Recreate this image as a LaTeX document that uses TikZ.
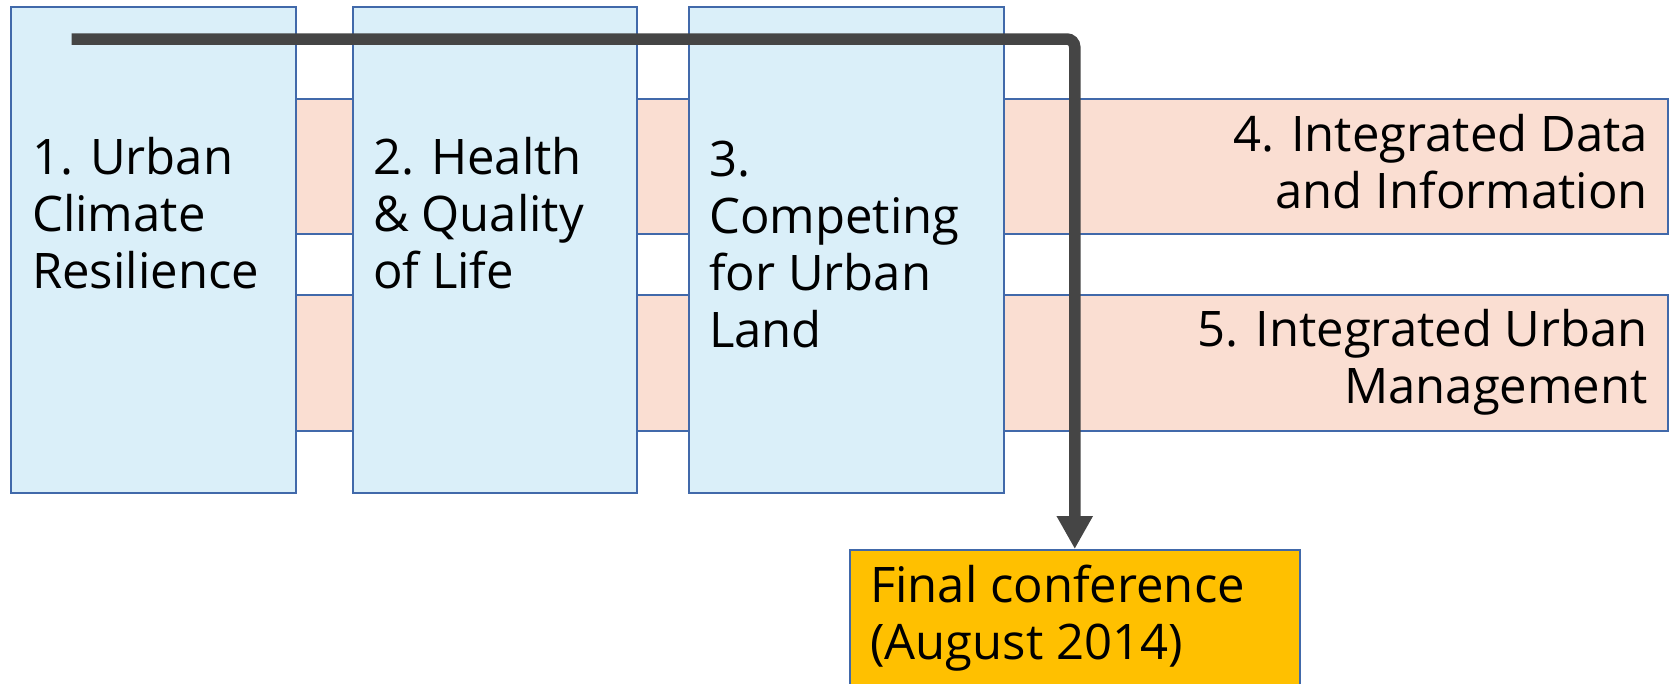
\documentclass[tikz,border=0pt]{standalone}
\usepackage{fontspec}
\setmainfont{Open Sans}
\usetikzlibrary{arrows.meta}
\definecolor{bordblue}{RGB}{65,105,170}
\definecolor{lblue}{RGB}{218,239,249}
\definecolor{lorange}{RGB}{250,222,210}
\definecolor{gold}{RGB}{255,192,0}
\definecolor{arrowgray}{RGB}{69,69,69}
\tikzset{
  box/.style={draw=bordblue, line width=2pt, inner sep=0pt, rectangle},
  bluebox/.style={box, fill=lblue},
  orangebox/.style={box, fill=lorange},
  goldbox/.style={box, fill=gold},
  lbl/.style={inner sep=0pt, font=\fontsize{49}{57}\selectfont},
  flow/.style={draw=arrowgray, line width=11.5pt, rounded corners=8pt, -{Triangle[width=34pt,length=33pt]}}
}
\begin{document}
\begin{tikzpicture}[x=1pt,y=-1pt]
\useasboundingbox (0,0) rectangle (1670,683);
% horizontal bars behind
\node[orangebox, minimum width=1468pt, minimum height=135pt] (r4) at (934,166.5) {};
\node[orangebox, minimum width=1468pt, minimum height=135.6pt] (r5) at (934,362.8) {};
% vertical boxes
\node[bluebox, minimum width=285.3pt, minimum height=485.2pt] (b1) at (153.3,249.9) {};
\node[bluebox, minimum width=284pt, minimum height=485.2pt] (b2) at (495,249.9) {};
\node[bluebox, minimum width=315pt, minimum height=485.2pt] (b3) at (846,249.9) {};
% final box
\node[goldbox, minimum width=450.5pt, minimum height=170pt] (fin) at (1074.75,635) {};
% texts
\node[lbl, anchor=base west] (t1) at (32,174) {\begin{tabular}[t]{@{}l@{}}1. Urban\\Climate\\Resilience\end{tabular}};
\node[lbl, anchor=base west] (t2) at (373,174) {\begin{tabular}[t]{@{}l@{}}2. Health\\\& Quality\\of Life\end{tabular}};
\node[lbl, anchor=base west] (t3) at (709,176) {\begin{tabular}[t]{@{}l@{}}3.\\Competing\\for Urban\\Land\end{tabular}};
\node[lbl, anchor=base east] (t4) at (1648,151) {\begin{tabular}[t]{@{}r@{}}4. Integrated Data\\and Information\end{tabular}};
\node[lbl, anchor=base east] (t5) at (1648,346) {\begin{tabular}[t]{@{}r@{}}5. Integrated Urban\\Management\end{tabular}};
\node[lbl, anchor=base west] (tf) at (870,602) {\begin{tabular}[t]{@{}l@{}}Final conference\\(August 2014)\end{tabular}};
% connector
\coordinate (start) at (71.7,39);
\draw[flow] (start) -| (fin.north);
\end{tikzpicture}
\end{document}
